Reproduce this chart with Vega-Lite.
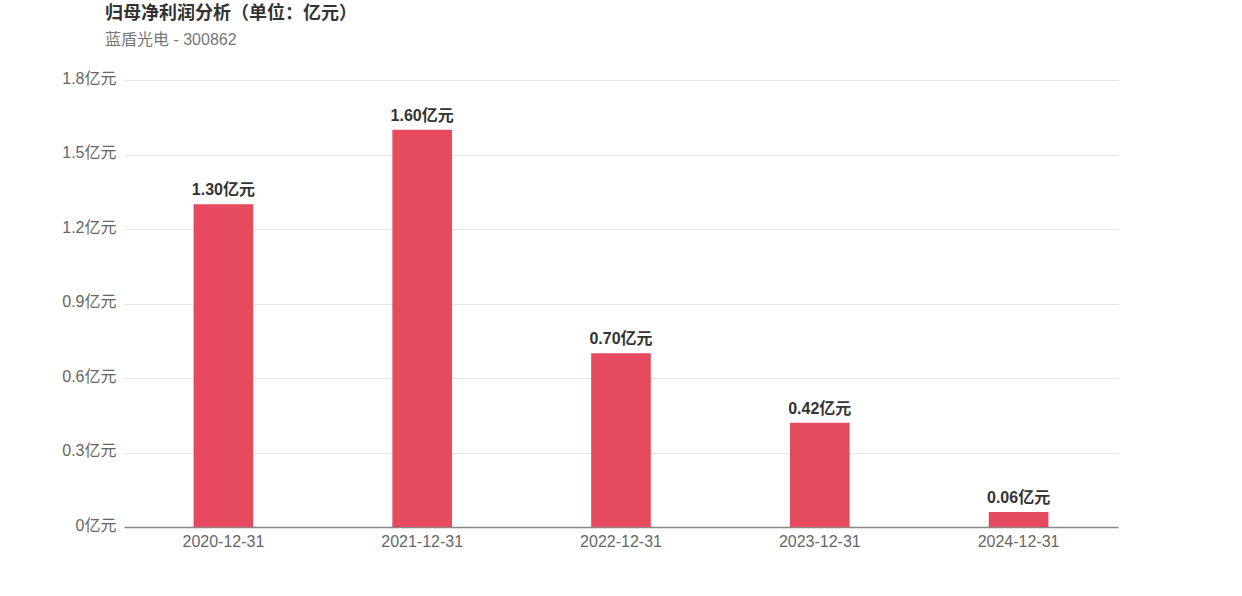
{
  "$schema": "https://vega.github.io/schema/vega-lite/v6.json",
  "width": 994,
  "height": 447,
  "autosize": {"type": "none"},
  "padding": {"left": 124, "top": 80, "right": 124, "bottom": 69},
  "background": "white",
  "title": {
    "text": "归母净利润分析（单位：亿元）",
    "subtitle": "蓝盾光电 - 300862",
    "anchor": "start",
    "frame": "group",
    "dx": -19,
    "offset": 22,
    "font": "Liberation Sans, Noto Sans CJK SC",
    "fontSize": 18,
    "fontWeight": "bold",
    "color": "#333333",
    "subtitleFont": "Liberation Sans, Noto Sans CJK SC",
    "subtitleFontSize": 16,
    "subtitleColor": "#777777",
    "subtitlePadding": 9
  },
  "config": {
    "view": {"stroke": null},
    "font": "Liberation Sans, Noto Sans CJK SC"
  },
  "data": {
    "values": [
      {"date": "2020-12-31", "value": 1.30},
      {"date": "2021-12-31", "value": 1.60},
      {"date": "2022-12-31", "value": 0.70},
      {"date": "2023-12-31", "value": 0.42},
      {"date": "2024-12-31", "value": 0.06}
    ]
  },
  "transform": [
    {"calculate": "format(datum.value, '.2f') + '亿元'", "as": "label"}
  ],
  "encoding": {
    "x": {
      "field": "date",
      "type": "nominal",
      "sort": null,
      "scale": {"paddingInner": 0.7, "paddingOuter": 0.35},
      "axis": {
        "title": null,
        "labelAngle": 0,
        "labelFontSize": 16,
        "labelColor": "#666666",
        "labelPadding": 6,
        "ticks": false,
        "domainColor": "#888888",
        "domainWidth": 1.5,
        "grid": false
      }
    },
    "y": {
      "field": "value",
      "type": "quantitative",
      "scale": {"domain": [0, 1.8], "nice": false},
      "axis": {
        "title": null,
        "values": [0, 0.3, 0.6, 0.9, 1.2, 1.5, 1.8],
        "labelExpr": "datum.value + '亿元'",
        "labelFontSize": 16,
        "labelColor": "#666666",
        "labelPadding": 8,
        "labelBaseline": "middle",
        "labelOffset": -2,
        "ticks": false,
        "domain": false,
        "gridColor": "#e6e6e6",
        "gridWidth": 1
      }
    }
  },
  "layer": [
    {"mark": {"type": "bar", "color": "#e54a5e"}},
    {
      "mark": {"type": "text", "baseline": "bottom", "dy": -6, "fontSize": 16, "fontWeight": "bold", "color": "#333333"},
      "encoding": {"text": {"field": "label"}}
    }
  ]
}
